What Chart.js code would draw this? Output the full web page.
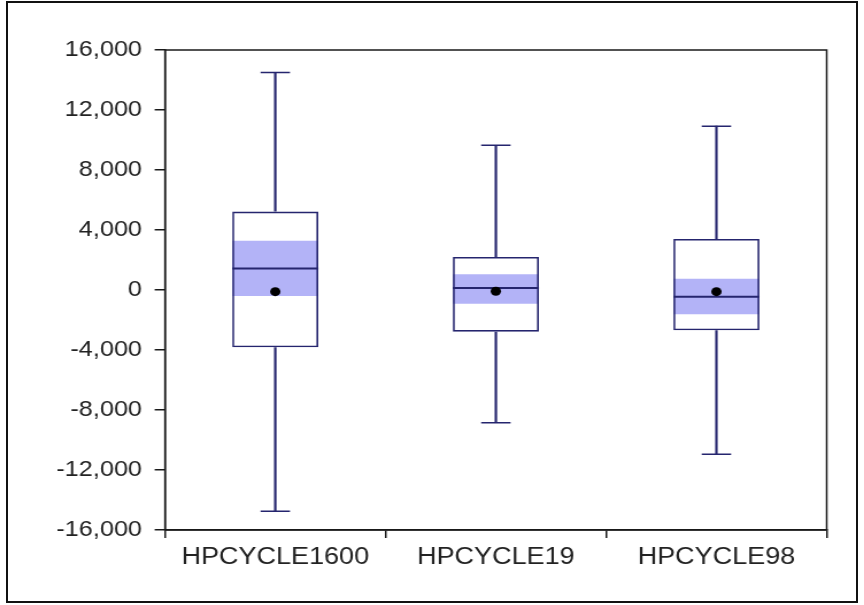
<!DOCTYPE html>
<html>
<head>
<meta charset="utf-8">
<script src="https://cdn.jsdelivr.net/npm/chart.js@4"></script>
<style>
    html, body { margin: 0; background: #fff; overflow: hidden; }
    #frame { position: absolute; left: 6px; top: 1px; width: 852px; height: 602px; box-sizing: border-box; border: 2px solid #111; }
    /* la imagen original esta un poco estirada a lo ancho, el canvas tambien */
    #wrap { position: absolute; left: 0; top: 0; width: 759px; height: 605px; transform: scaleX(1.149); transform-origin: 0 0; }
</style>
</head>
<body>
<div id="wrap"><canvas id="chart" width="759" height="605"></canvas></div>
<div id="frame"></div>
<script>
// Datos de cada serie
const categories = ['HPCYCLE1600', 'HPCYCLE19', 'HPCYCLE98'];
const minValues = [-14750, -8850, -10950];
const q1Values = [-3820, -2780, -2690];
const ciLowValues = [-400, -910, -1620];
const medianValues = [1430, 130, -450];
const meanValues = [-110, -80, -110];
const ciHighValues = [3280, 1050, 750];
const q3Values = [5230, 2200, 3400];
const maxValues = [14500, 9650, 10920];
const yMin = -16000, yMax = 16000, yStep = 4000;

const navy = '#25256e';
const band = '#b3b3f7';

// Marco del area del grafico (arriba y derecha tambien)
const boxFrame = {
    id: 'boxFrame',
    afterDraw(chart) {
        const a = chart.chartArea, ctx = chart.ctx;
        ctx.save();
        ctx.strokeStyle = '#1a1a1a';
        ctx.lineWidth = 1.5;
        ctx.strokeRect(a.left, a.top, a.right - a.left, a.bottom - a.top);
        ctx.restore();
    }
};

new Chart(document.getElementById('chart'), {
    data: {
        labels: categories,
        datasets: [
            // media (punto negro)
            {type: 'line', data: meanValues, showLine: false, pointStyle: 'circle', pointRadius: 4.5,
             pointBackgroundColor: '#000', pointBorderColor: '#000', pointBorderWidth: 0, order: 1},
            // mediana
            {type: 'line', data: medianValues, showLine: false, pointStyle: 'line', pointRadius: 37.5,
             pointBorderColor: navy, pointBorderWidth: 2, order: 2},
            // contorno de la caja
            {type: 'bar', data: q1Values.map((q, i) => [q, q3Values[i]]), backgroundColor: 'rgba(0,0,0,0)',
             borderColor: navy, borderWidth: 1.6, borderSkipped: false, grouped: false,
             barPercentage: 0.39, categoryPercentage: 1, order: 3},
            // banda sombreada
            {type: 'bar', data: ciLowValues.map((c, i) => [c, ciHighValues[i]]), backgroundColor: band,
             borderWidth: 0, grouped: false, barPercentage: 0.39, categoryPercentage: 1, order: 4},
            // relleno blanco de la caja
            {type: 'bar', data: q1Values.map((q, i) => [q, q3Values[i]]), backgroundColor: '#fff',
             borderWidth: 0, grouped: false, barPercentage: 0.39, categoryPercentage: 1, order: 5},
            // bigotes
            {type: 'bar', data: minValues.map((m, i) => [m, maxValues[i]]), backgroundColor: navy,
             borderWidth: 0, grouped: false, barThickness: 1.5, order: 6},
            // topes de los bigotes
            {type: 'line', data: maxValues, showLine: false, pointStyle: 'line', pointRadius: 12.8,
             pointBorderColor: navy, pointBorderWidth: 1.6, order: 7},
            {type: 'line', data: minValues, showLine: false, pointStyle: 'line', pointRadius: 12.8,
             pointBorderColor: navy, pointBorderWidth: 1.6, order: 7}
        ]
    },
    options: {
        responsive: false,
        animation: false,
        events: [],
        layout: {padding: {top: 50, right: 33, left: 0, bottom: 0}},
        plugins: {legend: {display: false}, tooltip: {enabled: false}},
        scales: {
            x: {
                offset: true,
                grid: {offset: true, drawOnChartArea: false, tickLength: 8, color: '#1a1a1a', lineWidth: 1.5},
                border: {color: '#1a1a1a', width: 1.5},
                ticks: {color: '#222', padding: 5, font: {family: 'Liberation Sans, Arial', size: 23.5}},
                afterFit: s => { s.height = 75; s.paddingLeft = 0; s.paddingRight = 0; }
            },
            y: {
                min: yMin, max: yMax,
                grid: {drawOnChartArea: false, tickLength: 9, color: '#1a1a1a', lineWidth: 1.5},
                border: {color: '#1a1a1a', width: 1.5},
                ticks: {stepSize: yStep, color: '#222', padding: 11,
                        font: {family: 'Liberation Sans, Arial', size: 22},
                        callback: v => v.toLocaleString('en-US')},
                afterFit: s => { s.width = 143.6; }
            }
        }
    },
    plugins: [boxFrame]
});
</script>
</body>
</html>
